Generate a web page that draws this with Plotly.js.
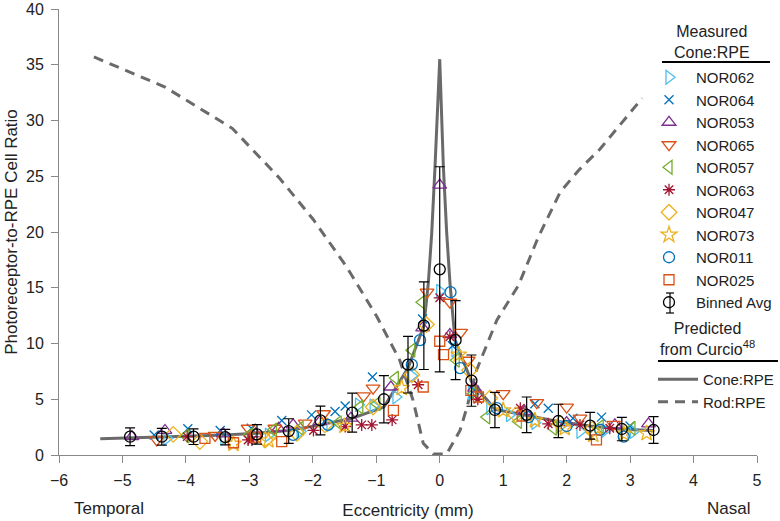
<!DOCTYPE html>
<html>
<head>
<meta charset="utf-8">
<script src="https://cdn.plot.ly/plotly-3.0.1.min.js"></script>
<style>html,body{margin:0;padding:0;background:#fff;}#chart{width:780px;height:521px;}</style>
</head>
<body>
<div id="chart"></div>
<script>
// ---- Predicted from Curcio ----
const coneX = [-5.35,-4.88,-4.38,-3.88,-3.38,-2.88,-2.38,-1.88,-1.38,-0.88,-0.5,-0.25,-0.18,-0.126,-0.074,0,0.057,0.11,0.162,0.24,0.5,0.87,1.37,1.87,2.37,2.87,3.37];
const coneY = [1.45,1.55,1.6,1.7,1.8,1.95,2.2,2.7,3.3,4.3,7.8,11.6,15.4,19.9,25.9,35.5,25.9,19.9,15.4,10.3,6.6,4.1,3.55,3.0,2.6,2.3,2.2];
const rodX = [-5.45,-4.33,-3.27,-2.52,-1.99,-1.47,-0.99,-0.63,-0.42,-0.26,-0.1,0.11,0.32,0.43,0.58,0.9,1.24,1.55,1.9,2.2,2.52,2.85,3.19];
const rodY = [35.7,33.0,29.3,24.8,21.1,16.9,12.4,8.5,4.9,1.05,0.1,0.1,2.2,4.3,7.6,12.1,15.2,19.5,23.6,25.6,27.4,29.7,32.0];

// ---- Binned average ----
const binX = [-4.88,-4.38,-3.88,-3.38,-2.88,-2.38,-1.88,-1.38,-0.88,-0.5,-0.25,0,0.25,0.5,0.87,1.37,1.87,2.37,2.87,3.37];
const binY = [1.64,1.64,1.64,1.6,1.85,2.15,3.1,3.8,5.0,8.1,11.6,16.65,10.3,6.67,4.04,3.6,3.05,2.63,2.33,2.24];
const binErr = [0.8,0.75,0.7,0.7,0.87,1.1,1.29,1.75,2.12,2.54,3.93,9.2,3.54,2.3,1.58,1.6,1.5,1.2,1.05,1.2];

// ---- Measured subjects ----
const subjects = ["NOR062","NOR064","NOR053","NOR065","NOR057","NOR063","NOR047","NOR073","NOR011","NOR025"];
const nor062X = [-4.3,-3.4,-2.7,-2.2,-1.73,-1.28,-1.05,-0.69,-0.44,0.0,0.24,0.5,0.79,1.1,1.5,1.9,2.21,2.6,3.05];
const nor062Y = [1.5,1.5,1.8,2.1,2.7,4.5,4.4,5.2,7.1,14.7,9.4,5.6,4.2,3.6,2.9,2.6,2.1,2.2,2.1];
const nor064X = [-4.5,-3.97,-3.46,-2.97,-2.49,-2.02,-1.65,-1.49,-1.06,-0.27,0.2,0.55,1.5,1.71,2.1,2.55,3.0];
const nor064Y = [1.8,2.35,2.2,2.4,3.1,3.6,3.9,4.4,7.0,12.2,9.8,5.8,4.6,4.2,3.3,3.4,2.6];
const nor053X = [-4.85,-4.33,-3.41,-2.9,-2.54,-2.31,-1.89,-1.4,-0.77,-0.27,0.0,0.16,0.55,1.34,2.0,2.76,3.29];
const nor053Y = [1.65,2.2,1.9,1.9,2.4,2.7,3.0,3.3,6.1,11.4,24.2,10.8,6.0,3.9,2.9,2.7,2.8];
const nor065X = [-4.46,-3.54,-3.02,-2.6,-2.12,-1.83,-1.2,-1.05,-0.2,0.16,0.33,0.45,1.0,1.53,2.0,2.21,2.74];
const nor065Y = [1.35,1.75,2.4,2.4,2.85,3.7,5.3,6.0,14.6,13.7,11.0,8.5,5.5,4.7,4.3,3.3,2.75];
const nor057X = [-4.0,-3.0,-2.62,-2.2,-1.6,-1.26,-0.99,-0.7,-0.44,-0.28,0.26,0.53,0.74,1.24,1.79,2.53,3.03];
const nor057Y = [1.7,1.8,2.25,2.4,2.9,4.3,4.6,6.9,9.4,13.7,8.5,5.5,3.4,3.0,2.4,2.55,2.4];
const nor063X = [-3.98,-3.02,-2.96,-1.99,-1.49,-1.23,-1.07,-0.75,-0.34,0.0,0.16,0.6,1.27,1.71,2.21,2.68];
const nor063Y = [1.65,1.35,1.35,2.2,2.55,2.7,2.7,3.15,6.3,14.1,10.6,5.0,4.2,2.8,2.7,2.4];
const nor047X = [-4.2,-3.78,-2.75,-2.25,-1.81,-1.05,-0.44,-0.21,0.47,0.79,1.2,1.9,2.4];
const nor047Y = [1.85,1.2,1.35,1.95,2.7,4.3,7.2,11.7,7.6,5.1,3.6,2.8,2.3];
const nor073X = [-3.25,-2.7,-1.5,-0.6,0.3,1.0,1.5,1.97,2.42,2.9,3.26];
const nor073Y = [1.0,1.3,2.6,6.0,9.0,4.0,3.1,2.4,1.8,1.9,1.95];
const nor011X = [-2.31,-1.76,-0.44,-0.31,0.17,0.32,0.9,1.4,2.0,2.53,2.9];
const nor011Y = [1.8,2.7,8.1,10.3,14.6,7.8,4.2,3.4,2.6,2.25,1.65];
const nor025X = [-3.7,-3.25,-2.9,-2.49,-0.73,-0.26,0.0,0.06,0.49,0.61,1.3,2.47];
const nor025Y = [1.5,1.1,1.6,1.2,4.0,6.1,10.2,9.0,5.8,5.2,3.5,1.35];

const xTicks = [-6,-5,-4,-3,-2,-1,0,1,2,3,4,5];
const yTicks = [0,5,10,15,20,25,30,35,40];

const subjX = [nor062X,nor064X,nor053X,nor065X,nor057X,nor063X,nor047X,nor073X,nor011X,nor025X];
const subjY = [nor062Y,nor064Y,nor053Y,nor065Y,nor057Y,nor063Y,nor047Y,nor073Y,nor011Y,nor025Y];
const symbols = ["triangle-right-open","x-thin-open","triangle-up-open","triangle-down-open","triangle-left-open","asterisk-open","diamond-open","star-open","circle-open","square-open"];
const colors = ["#4DBEEE","#0072BD","#7E2F8E","#D95319","#77AC30","#A2142F","#EDB120","#EDB120","#0072BD","#D95319"];
const sizes = [12,9,12,12,12,10,12,12,11,10];

const FONT = "Liberation Sans, Arial, sans-serif";
const traces = [];

traces.push({x: rodX, y: rodY, mode: "lines", name: "Rod:RPE", legend: "legend2",
  line: {color: "#6a6a6a", width: 3, dash: "10px,7px"}});
traces.push({x: coneX, y: coneY, mode: "lines", name: "Cone:RPE", legend: "legend2",
  line: {color: "#6a6a6a", width: 3}});

for (let i = 0; i < subjects.length; i++) {
  traces.push({x: subjX[i], y: subjY[i], mode: "markers", name: subjects[i], legend: "legend",
    marker: {symbol: symbols[i], color: colors[i], size: sizes[i], line: {color: colors[i], width: 1.3}}});
}
traces.push({x: binX, y: binY, mode: "markers", name: "Binned Avg", legend: "legend",
  marker: {symbol: "circle-open", color: "#000", size: 11, line: {color: "#000", width: 1.3}},
  error_y: {type: "data", array: binErr, visible: true, color: "#000", thickness: 1.2, width: 5}});

// helpers converting legend-box pixel spots to paper fractions (plot area: 59..757 x, 9..455 y)
const px = v => (v - 59) / 698;
const py = v => (455 - v) / 446;

const layout = {
  width: 780, height: 521,
  margin: {l: 59, r: 23, t: 9, b: 66, autoexpand: false},
  paper_bgcolor: "#fff", plot_bgcolor: "#fff",
  font: {family: FONT, size: 16, color: "#222"},
  showlegend: true,
  xaxis: {range: [-6, 5], tickvals: xTicks, ticks: "outside", ticklen: 7, tickcolor: "#888",
    showline: true, linecolor: "#888", linewidth: 1, zeroline: false, showgrid: false,
    tickfont: {size: 16, color: "#222"}, ticklabelstandoff: 4,
    title: {text: "Eccentricity (mm)", font: {size: 17, color: "#222"}, standoff: 15}},
  yaxis: {range: [0, 40], tickvals: yTicks, ticks: "outside", ticklen: 7, tickcolor: "#888",
    showline: true, linecolor: "#888", linewidth: 1, zeroline: false, showgrid: false,
    tickfont: {size: 16, color: "#222"}, ticklabelstandoff: 4,
    title: {text: "Photoreceptor-to-RPE Cell Ratio", font: {size: 17, color: "#222"}, standoff: 4}},
  legend: {x: px(642), xanchor: "left", y: py(61), yanchor: "top", bgcolor: "rgba(0,0,0,0)",
    font: {size: 15, color: "#222"}, traceorder: "normal", itemsizing: "trace", itemwidth: 44},
  legend2: {x: px(653), xanchor: "left", y: py(363), yanchor: "top", bgcolor: "rgba(0,0,0,0)",
    font: {size: 15, color: "#222"}, traceorder: "reversed", itemwidth: 40},
  shapes: [
    {type: "line", xref: "paper", yref: "paper", x0: px(662), x1: px(770), y0: py(62), y1: py(62), line: {color: "#000", width: 2}},
    {type: "line", xref: "paper", yref: "paper", x0: px(658), x1: px(778), y0: py(361), y1: py(361), line: {color: "#000", width: 2}},
    // error-bar glyph for the "Binned Avg" legend entry
    {type: "line", xref: "paper", yref: "paper", x0: px(670), x1: px(670), y0: py(293), y1: py(313), line: {color: "#000", width: 1.2}},
    {type: "line", xref: "paper", yref: "paper", x0: px(666), x1: px(674), y0: py(293), y1: py(293), line: {color: "#000", width: 1.2}},
    {type: "line", xref: "paper", yref: "paper", x0: px(666), x1: px(674), y0: py(313), y1: py(313), line: {color: "#000", width: 1.2}}
  ],
  annotations: [
    {text: "Measured<br>Cone:RPE", xref: "paper", yref: "paper", x: px(712), y: py(42), xanchor: "center", yanchor: "middle", showarrow: false, font: {size: 16, color: "#222"}, align: "center"},
    {text: "Predicted<br>from Curcio<sup>48</sup>", xref: "paper", yref: "paper", x: px(707), y: py(339), xanchor: "center", yanchor: "middle", showarrow: false, font: {size: 16, color: "#222"}, align: "center"},
    {text: "Temporal", xref: "paper", yref: "paper", x: px(109), y: py(508), xanchor: "center", yanchor: "middle", showarrow: false, font: {size: 17, color: "#222"}},
    {text: "Nasal", xref: "paper", yref: "paper", x: px(728), y: py(508), xanchor: "center", yanchor: "middle", showarrow: false, font: {size: 17, color: "#222"}}
  ]
};

Plotly.newPlot("chart", traces, layout, {displayModeBar: false, staticPlot: true});
</script>
</body>
</html>
